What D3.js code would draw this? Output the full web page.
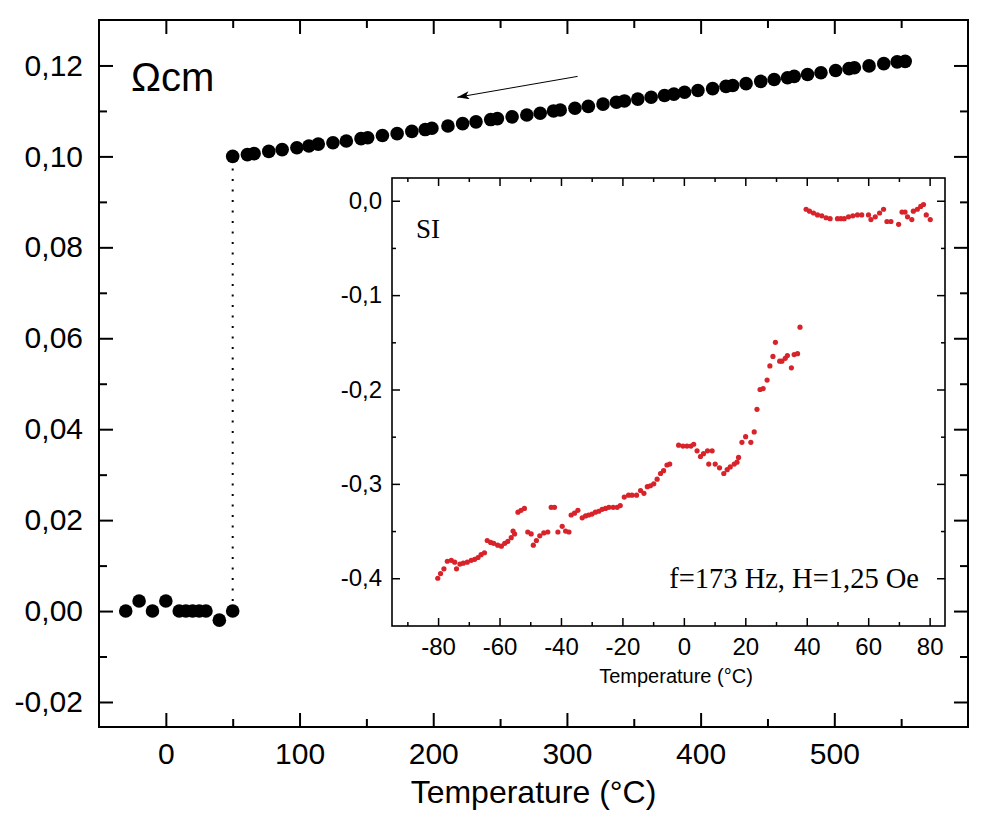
<!DOCTYPE html>
<html>
<head>
<meta charset="utf-8">
<script src="https://cdn.jsdelivr.net/npm/d3@7"></script>
<style>
  body { margin: 0; background: #fff; }
  svg { display: block; }
  .tick text { fill: #000; }
</style>
</head>
<body>
<svg id="chart" width="1000" height="830"></svg>
<script>
// main curve: resistivity (Ohm cm) vs temperature, low branch after the transition
const lowTemps = [-30, -20, -10, 0, 10, 15, 20, 25, 30, 40, 50];
const lowRho = [0.0000, 0.0022, 0.0000, 0.0022, 0.0000, 0.0000, 0.0000, 0.0000, 0.0000, -0.0020, 0.0000];

// high branch
const highTemps = [50, 61, 66, 77, 87, 98, 107, 114, 125, 135, 146, 151, 162, 173, 184, 194, 199,
  211, 222, 232, 243, 248, 259, 270, 280, 290, 295, 306, 316, 327, 337, 343, 353, 363, 373, 380,
  388, 398, 409, 419, 424, 434, 445, 455, 465, 470, 480, 490, 501, 511, 515, 526, 537, 547, 553];
const highRho = [0.1000, 0.1004, 0.1006, 0.1011, 0.1015, 0.1019, 0.1023, 0.1027, 0.1030, 0.1034,
  0.1039, 0.1041, 0.1046, 0.1050, 0.1055, 0.1059, 0.1062, 0.1067, 0.1072, 0.1076, 0.1081, 0.1083,
  0.1087, 0.1091, 0.1095, 0.1100, 0.1102, 0.1106, 0.1110, 0.1115, 0.1119, 0.1122, 0.1126, 0.1130,
  0.1134, 0.1137, 0.1141, 0.1145, 0.1149, 0.1154, 0.1156, 0.1160, 0.1165, 0.1169, 0.1173, 0.1176,
  0.1180, 0.1184, 0.1189, 0.1193, 0.1195, 0.1199, 0.1204, 0.1208, 0.1209];

// inset: susceptibility (SI) vs temperature
const insetTemps = [-80.1, -79.2, -78.1, -77.0, -75.7, -74.6, -74.0, -72.9, -71.8, -70.5, -69.2,
  -68.1, -67.0, -66.0, -64.9, -64.0, -62.9, -61.9, -60.6, -59.4, -58.3, -57.3, -56.2, -55.1, -55.6,
  -54.0, -53.0, -51.9, -50.8, -49.7, -49.0, -48.0, -46.9, -45.6, -44.3, -43.2, -42.1, -41.0, -39.6,
  -38.5, -37.4, -36.7, -35.6, -34.5, -33.1, -32.0, -31.0, -29.9, -28.8, -27.7, -26.6, -25.5, -24.4,
  -23.0, -21.7, -20.7, -19.4, -18.0, -16.9, -15.4, -14.1, -13.0, -11.9, -10.9, -9.8, -8.7, -7.6,
  -6.6, -5.5, -4.6, -1.7, -0.3, 1.0, 2.3, 3.2, 4.3, 5.4, 6.4, 7.7, 9.2, 8.1, 10.2, 11.6, 13.0, 14.1,
  15.1, 16.4, 17.3, 17.8, 18.9, 20.1, 21.8, 22.9, 23.8, 24.8, 25.8, 27.1, 28.0, 29.0, 29.8, 31.2,
  31.9, 33.0, 33.7, 35.0, 35.9, 37.0, 37.8,
  39.8, 40.9, 42.2, 43.5, 44.9, 46.3, 47.6, 50.0, 51.1, 52.2, 53.6, 55.0, 56.5, 57.9, 60.1, 60.9,
  62.3, 63.7, 65.0, 66.1, 67.4, 69.9, 71.0, 72.0, 72.8, 74.2, 74.7, 76.0, 77.1, 78.0, 78.9, 80.2];
const insetChi = [-0.400, -0.395, -0.390, -0.382, -0.381, -0.383, -0.390, -0.385, -0.384, -0.383,
  -0.381, -0.380, -0.378, -0.375, -0.373, -0.360, -0.362, -0.363, -0.365, -0.366, -0.363, -0.361,
  -0.357, -0.353, -0.350, -0.330, -0.328, -0.326, -0.351, -0.353, -0.365, -0.360, -0.355, -0.352,
  -0.351, -0.325, -0.325, -0.351, -0.345, -0.350, -0.351, -0.333, -0.331, -0.328, -0.336, -0.334,
  -0.333, -0.332, -0.330, -0.329, -0.327, -0.326, -0.325, -0.325, -0.325, -0.323, -0.314, -0.312,
  -0.312, -0.312, -0.307, -0.310, -0.303, -0.302, -0.300, -0.295, -0.289, -0.286, -0.280, -0.279,
  -0.259, -0.260, -0.260, -0.260, -0.258, -0.265, -0.271, -0.268, -0.265, -0.265, -0.279, -0.279,
  -0.283, -0.289, -0.285, -0.282, -0.279, -0.277, -0.272, -0.256, -0.250, -0.256, -0.245, -0.221,
  -0.200, -0.199, -0.190, -0.175, -0.165, -0.150, -0.170, -0.170, -0.167, -0.164, -0.177, -0.163,
  -0.162, -0.134,
  -0.009, -0.011, -0.013, -0.015, -0.016, -0.018, -0.019, -0.019, -0.019, -0.019, -0.017, -0.016,
  -0.015, -0.015, -0.015, -0.020, -0.017, -0.013, -0.009, -0.022, -0.022, -0.025, -0.012, -0.012,
  -0.017, -0.020, -0.011, -0.009, -0.006, -0.004, -0.015, -0.020];

const mainXTicks = [0, 100, 200, 300, 400, 500];
const mainXMinor = [50, 150, 250, 350, 450, 550];
const mainYTicks = [-0.02, 0, 0.02, 0.04, 0.06, 0.08, 0.1, 0.12];
const mainYMinor = [-0.01, 0.01, 0.03, 0.05, 0.07, 0.09, 0.11];
const insetXTicks = [-80, -60, -40, -20, 0, 20, 40, 60, 80];
const insetXMinor = [-90, -70, -50, -30, -10, 10, 30, 50, 70];
const insetYTicks = [0, -0.1, -0.2, -0.3, -0.4];
const insetYMinor = [-0.05, -0.15, -0.25, -0.35];

const locale = d3.formatLocale({ decimal: ",", thousands: ".", grouping: [3], currency: ["", ""], minus: "-" });

const svg = d3.select("#chart");
const sans = "'Liberation Sans', Arial, sans-serif";
const serif = "'Liberation Serif', 'Times New Roman', serif";

// ---------- main plot ----------
const M = { left: 99, right: 968, top: 20, bottom: 727 };
const x = d3.scaleLinear().domain([-50, 600]).range([M.left, M.right]);
const y = d3.scaleLinear().domain([-0.0255, 0.13]).range([M.bottom, M.top]);

function drawAxes(g, xs, ys, box, opt) {
  const major = opt.major, minor = opt.minor;
  const bottom = g.append("g").attr("transform", `translate(0,${box.bottom})`)
    .call(d3.axisBottom(xs).tickValues(opt.xTicks).tickSize(-major).tickPadding(opt.xPad)
      .tickFormat(opt.xFormat));
  const left = g.append("g").attr("transform", `translate(${box.left},0)`)
    .call(d3.axisLeft(ys).tickValues(opt.yTicks).tickSize(-major).tickPadding(opt.yPad)
      .tickFormat(opt.yFormat));
  [bottom, left].forEach((a) => a.selectAll("text").style("font-family", sans).style("font-size", opt.fontSize + "px"));

  g.append("g").attr("transform", `translate(0,${box.bottom})`)
    .call(d3.axisBottom(xs).tickValues(opt.xMinor).tickSize(-minor).tickFormat(""));
  g.append("g").attr("transform", `translate(${box.left},0)`)
    .call(d3.axisLeft(ys).tickValues(opt.yMinor).tickSize(-minor).tickFormat(""));
  g.append("g").attr("transform", `translate(0,${box.top})`)
    .call(d3.axisTop(xs).tickValues(opt.xTicks).tickSize(-major).tickFormat(""));
  g.append("g").attr("transform", `translate(0,${box.top})`)
    .call(d3.axisTop(xs).tickValues(opt.xMinor).tickSize(-minor).tickFormat(""));
  g.append("g").attr("transform", `translate(${box.right},0)`)
    .call(d3.axisRight(ys).tickValues(opt.yTicks).tickSize(-major).tickFormat(""));
  g.append("g").attr("transform", `translate(${box.right},0)`)
    .call(d3.axisRight(ys).tickValues(opt.yMinor).tickSize(-minor).tickFormat(""));

  g.selectAll(".domain").remove();
  g.selectAll(".tick line").attr("stroke", "#000").attr("stroke-width", opt.tickWidth);
  g.append("rect")
    .attr("x", box.left).attr("y", box.top)
    .attr("width", box.right - box.left).attr("height", box.bottom - box.top)
    .attr("fill", "none").attr("stroke", "#000").attr("stroke-width", opt.frameWidth);
}

const mainG = svg.append("g");
drawAxes(mainG, x, y, M, {
  xTicks: mainXTicks, xMinor: mainXMinor, yTicks: mainYTicks, yMinor: mainYMinor,
  major: 14, minor: 8, xPad: 16, yPad: 16, fontSize: 30, tickWidth: 2, frameWidth: 2,
  xFormat: locale.format("d"), yFormat: locale.format(".2f"),
});

mainG.append("text")
  .attr("x", (M.left + M.right) / 2).attr("y", 803)
  .attr("text-anchor", "middle")
  .style("font-family", sans).style("font-size", "32px")
  .text("Temperature (°C)");

mainG.append("text")
  .attr("x", 131).attr("y", 91)
  .style("font-family", sans).style("font-size", "40px")
  .text("Ωcm");

// vertical dotted jump at the transition
mainG.append("line")
  .attr("x1", x(50)).attr("x2", x(50))
  .attr("y1", y(lowRho[lowRho.length - 1]) - 10).attr("y2", y(highRho[0]) + 8)
  .attr("stroke", "#000").attr("stroke-width", 2)
  .attr("stroke-dasharray", "2,8.5");

// arrow showing cooling direction
svg.append("defs").append("marker")
  .attr("id", "head").attr("viewBox", "0 0 12 8")
  .attr("refX", 12).attr("refY", 4)
  .attr("markerWidth", 14).attr("markerHeight", 8)
  .attr("markerUnits", "userSpaceOnUse").attr("orient", "auto")
  .append("path").attr("d", "M0,0 L12,4 L0,8 L3,4 Z").attr("fill", "#000");

mainG.append("line")
  .attr("x1", x(308)).attr("y1", y(0.1176))
  .attr("x2", x(218)).attr("y2", y(0.1130))
  .attr("stroke", "#000").attr("stroke-width", 1)
  .attr("marker-end", "url(#head)");

const mainPoints = lowTemps.map((t, i) => [t, lowRho[i]])
  .concat(highTemps.map((t, i) => [t, highRho[i]]));

mainG.append("g")
  .selectAll("circle")
  .data(mainPoints)
  .join("circle")
  .attr("cx", (d) => x(d[0]))
  .attr("cy", (d) => y(d[1]))
  .attr("r", 6.8)
  .attr("fill", "#000");

// ---------- inset ----------
const I = { left: 392, right: 945, top: 178, bottom: 626 };
const ix = d3.scaleLinear().domain([-95, 85]).range([I.left, I.right]);
const iy = d3.scaleLinear().domain([-0.4506, 0.0241]).range([I.bottom, I.top]);

const insetG = svg.append("g");
insetG.append("rect")
  .attr("x", I.left).attr("y", I.top)
  .attr("width", I.right - I.left).attr("height", I.bottom - I.top)
  .attr("fill", "#fff");

drawAxes(insetG, ix, iy, I, {
  xTicks: insetXTicks, xMinor: insetXMinor, yTicks: insetYTicks, yMinor: insetYMinor,
  major: 8, minor: 4, xPad: 12, yPad: 10, fontSize: 24, tickWidth: 1.5, frameWidth: 1.6,
  xFormat: locale.format("d"), yFormat: locale.format(".1f"),
});

insetG.append("text")
  .attr("x", 676).attr("y", 683)
  .attr("text-anchor", "middle")
  .style("font-family", sans).style("font-size", "20px")
  .text("Temperature (°C)");

insetG.append("text")
  .attr("x", 416).attr("y", 238)
  .style("font-family", serif).style("font-size", "27px")
  .text("SI");

insetG.append("text")
  .attr("x", 919).attr("y", 588)
  .attr("text-anchor", "end")
  .style("font-family", serif).style("font-size", "28.5px")
  .text("f=173 Hz, H=1,25 Oe");

insetG.append("g")
  .selectAll("circle")
  .data(insetTemps.map((t, i) => [t, insetChi[i]]))
  .join("circle")
  .attr("cx", (d) => ix(d[0]))
  .attr("cy", (d) => iy(d[1]))
  .attr("r", 2.6)
  .attr("fill", "#d8232a");
</script>
</body>
</html>
